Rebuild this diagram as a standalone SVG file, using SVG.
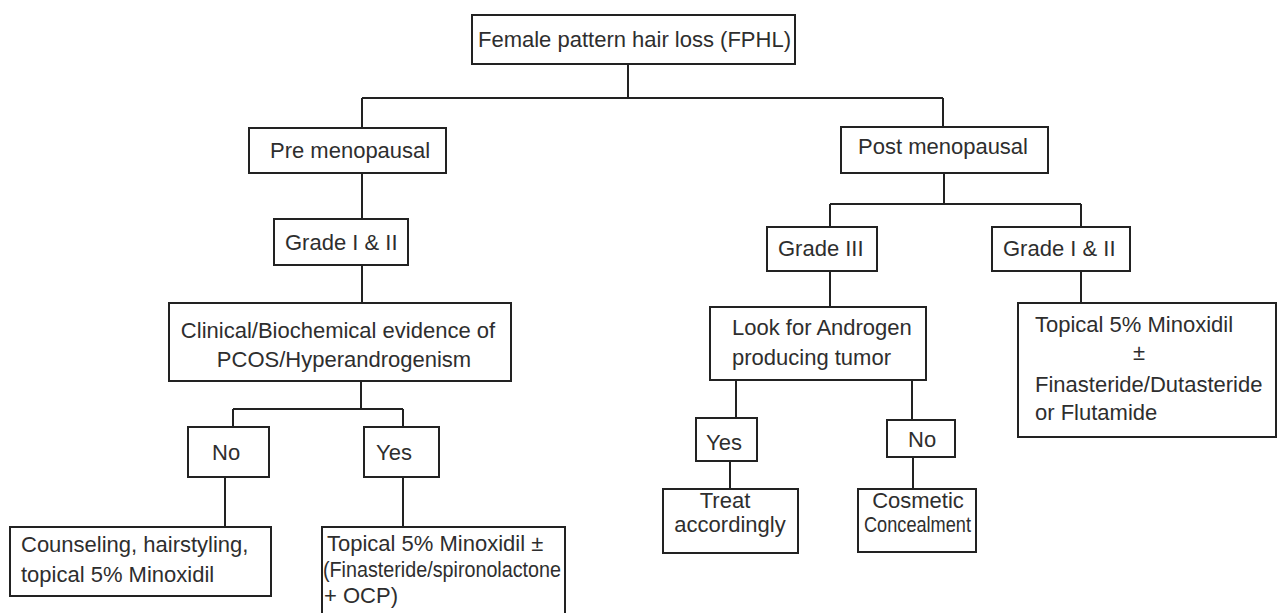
<svg xmlns="http://www.w3.org/2000/svg" width="1278" height="613" viewBox="0 0 1278 613">
<style>
.box{fill:#fff;stroke:#222;stroke-width:2}
.t{font-family:"Liberation Sans",Arial,sans-serif;font-size:22px;fill:#2e2e2e}
.c{text-anchor:middle}
#connectors path{fill:none;stroke:#222;stroke-width:2}
</style>
<rect width="1278" height="613" fill="#fff"/>
<g id="connectors">
<path d="M628 64V98M362 98H943M362 98V128M943 98V127"/>
<path d="M362 173V219M362 265V303M361 381V409M233 409H403M233 409V427M403 409V427"/>
<path d="M225 477V527M403 477V527"/>
<path d="M944 173V204M830 204H1081M830 204V227M1081 204V227"/>
<path d="M830 271V307M1081 271V303"/>
<path d="M736 380V418M912 380V420M730 461V489M913 457V489"/>
</g>
<g id="n-fphl"><rect class="box" x="472" y="15" width="323" height="49"/><text class="t" x="478" y="47">Female pattern hair loss (FPHL)</text></g>
<g id="n-pre"><rect class="box" x="249" y="128" width="197" height="45"/><text class="t" x="270" y="158">Pre menopausal</text></g>
<g id="n-post"><rect class="box" x="841" y="127" width="207" height="46"/><text class="t" x="858" y="154">Post menopausal</text></g>
<g id="n-grade-pre"><rect class="box" x="274" y="219" width="134" height="46"/><text class="t" x="285" y="250">Grade I &amp; II</text></g>
<g id="n-clinical"><rect class="box" x="169" y="303" width="342" height="78"/><text class="t c" x="338" y="338">Clinical/Biochemical evidence of</text><text class="t c" x="344" y="367">PCOS/Hyperandrogenism</text></g>
<g id="n-no-left"><rect class="box" x="188" y="427" width="81" height="50"/><text class="t" x="212" y="460">No</text></g>
<g id="n-yes-left"><rect class="box" x="364" y="427" width="75" height="50"/><text class="t" x="376" y="460">Yes</text></g>
<g id="n-counsel"><rect class="box" x="10" y="527" width="261" height="69"/><text class="t" x="21" y="552">Counseling, hairstyling,</text><text class="t" x="21" y="582">topical 5% Minoxidil</text></g>
<g id="n-topical-left"><rect class="box" x="322" y="527" width="243" height="95"/><text class="t" x="327" y="551">Topical 5% Minoxidil ±</text><text class="t" x="323" y="577" textLength="238" lengthAdjust="spacingAndGlyphs">(Finasteride/spironolactone</text><text class="t" x="324" y="603">+ OCP)</text></g>
<g id="n-grade3"><rect class="box" x="767" y="227" width="110" height="44"/><text class="t" x="778" y="256">Grade III</text></g>
<g id="n-grade-post"><rect class="box" x="992" y="227" width="138" height="44"/><text class="t" x="1003" y="256">Grade I &amp; II</text></g>
<g id="n-look"><rect class="box" x="710" y="307" width="216" height="73"/><text class="t" x="732" y="335">Look for Androgen</text><text class="t" x="732" y="365">producing tumor</text></g>
<g id="n-topical-right"><rect class="box" x="1018" y="303" width="258" height="134"/><text class="t" x="1035" y="332">Topical 5% Minoxidil</text><text class="t c" x="1139" y="360">±</text><text class="t" x="1035" y="392">Finasteride/Dutasteride</text><text class="t" x="1035" y="420">or Flutamide</text></g>
<g id="n-yes-right"><rect class="box" x="696" y="418" width="61" height="43"/><text class="t" x="706" y="450">Yes</text></g>
<g id="n-no-right"><rect class="box" x="887" y="420" width="68" height="37"/><text class="t" x="908" y="447">No</text></g>
<g id="n-treat"><rect class="box" x="663" y="489" width="135" height="64"/><text class="t c" x="725" y="508">Treat</text><text class="t c" x="730" y="532">accordingly</text></g>
<g id="n-cosmetic"><rect class="box" x="858" y="489" width="118" height="63"/><text class="t c" x="918" y="508">Cosmetic</text><text class="t" x="864" y="532" textLength="107" lengthAdjust="spacingAndGlyphs">Concealment</text></g>
</svg>
